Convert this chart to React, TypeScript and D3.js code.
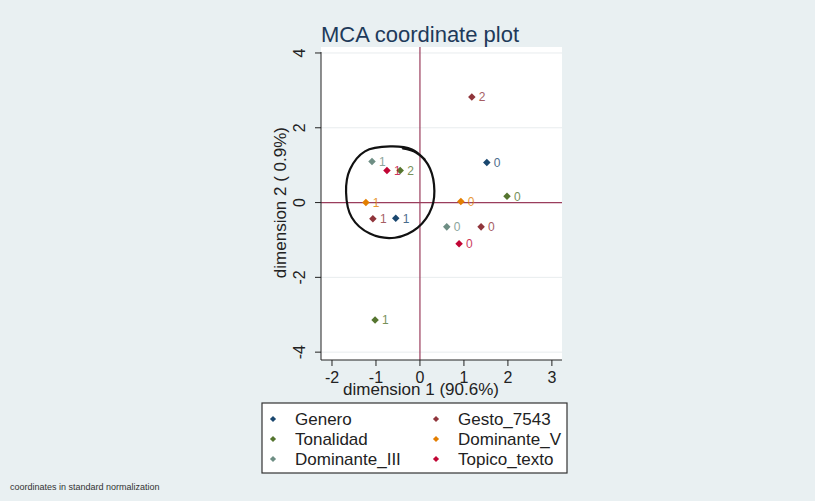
import { useEffect, useRef } from "react";
import * as d3 from "d3";

// variables in legend order (row-wise, two columns)
const variables = ["Genero", "Gesto_7543", "Tonalidad", "Dominante_V", "Dominante_III", "Topico_texto"];
const colors = ["#1a476f", "#90353b", "#55752f", "#e37e00", "#6e8e84", "#c10534"];

// category coordinates
const generoCats = ["0", "1"];
const generoDim1 = [1.52, -0.55];
const generoDim2 = [1.07, -0.42];

const gestoCats = ["0", "1", "2"];
const gestoDim1 = [1.39, -1.07, 1.18];
const gestoDim2 = [-0.65, -0.43, 2.82];

const tonalidadCats = ["0", "1", "2"];
const tonalidadDim1 = [1.98, -1.02, -0.45];
const tonalidadDim2 = [0.17, -3.14, 0.86];

const domVCats = ["0", "1"];
const domVDim1 = [0.93, -1.23];
const domVDim2 = [0.03, 0.0];

const domIIICats = ["0", "1"];
const domIIIDim1 = [0.61, -1.09];
const domIIIDim2 = [-0.65, 1.1];

const topicoCats = ["0", "1"];
const topicoDim1 = [0.89, -0.75];
const topicoDim2 = [-1.1, 0.86];

const xTicks = [-2, -1, 0, 1, 2, 3];
const yTicks = [-4, -2, 0, 2, 4];

// hand drawn loop around the left cluster (data units)
const loopDim1 = [0.11, -0.18, -0.68, -1.25, -1.59, -1.68, -1.55, -1.14, -0.57, -0.05, 0.27, 0.32, 0.18, -0.09, -0.39];
const loopDim2 = [1.15, 1.42, 1.5, 1.37, 0.89, 0.27, -0.4, -0.83, -0.94, -0.67, -0.13, 0.48, 1.02, 1.34, 1.45];

export default function App() {
  const svgRef = useRef<SVGSVGElement>(null);

  useEffect(() => {
    if (!svgRef.current) return;
    const W = 815, H = 501;
    const svg = d3.select(svgRef.current);
    svg.selectAll("*").remove();
    const font = "'Liberation Sans', Arial, sans-serif";

    const series = [
      { cats: generoCats, d1: generoDim1, d2: generoDim2 },
      { cats: gestoCats, d1: gestoDim1, d2: gestoDim2 },
      { cats: tonalidadCats, d1: tonalidadDim1, d2: tonalidadDim2 },
      { cats: domVCats, d1: domVDim1, d2: domVDim2 },
      { cats: domIIICats, d1: domIIIDim1, d2: domIIIDim2 },
      { cats: topicoCats, d1: topicoDim1, d2: topicoDim2 },
    ].map((s, i) => ({
      name: variables[i],
      color: colors[i],
      pts: s.cats.map((c, j) => ({ cat: c, x: s.d1[j], y: s.d2[j] })),
    }));

    const plot = { left: 321, right: 562, top: 47, bottom: 360 };
    const x = d3.scaleLinear().domain([-2.25, 3.23]).range([plot.left, plot.right]);
    const y = d3.scaleLinear().domain([-4.21, 4.16]).range([plot.bottom, plot.top]);

    // background
    svg.append("rect").attr("width", W).attr("height", H).attr("fill", "#e9f0f2");
    svg.append("rect")
      .attr("x", plot.left).attr("y", plot.top)
      .attr("width", plot.right - plot.left).attr("height", plot.bottom - plot.top)
      .attr("fill", "#ffffff");

    // gridlines
    svg.append("g").selectAll("line").data(yTicks).enter().append("line")
      .attr("x1", plot.left).attr("x2", plot.right)
      .attr("y1", d => y(d)).attr("y2", d => y(d))
      .attr("stroke", "#e8ecee").attr("stroke-width", 1);

    // reference lines at 0
    svg.append("line")
      .attr("x1", x(0)).attr("x2", x(0)).attr("y1", plot.top).attr("y2", plot.bottom)
      .attr("stroke", "#9a3d5c").attr("stroke-width", 1.2);
    svg.append("line")
      .attr("x1", plot.left).attr("x2", plot.right).attr("y1", y(0)).attr("y2", y(0))
      .attr("stroke", "#9a3d5c").attr("stroke-width", 1.2);

    // axes
    const axisColor = "#222";
    svg.append("line")
      .attr("x1", plot.left).attr("x2", plot.left).attr("y1", plot.top + 5).attr("y2", plot.bottom)
      .attr("stroke", axisColor);
    svg.append("line")
      .attr("x1", plot.left).attr("x2", plot.right).attr("y1", plot.bottom).attr("y2", plot.bottom)
      .attr("stroke", axisColor);

    const yt = svg.append("g");
    yt.selectAll("line").data(yTicks).enter().append("line")
      .attr("x1", plot.left - 6).attr("x2", plot.left)
      .attr("y1", d => y(d)).attr("y2", d => y(d))
      .attr("stroke", axisColor);
    yt.selectAll("text").data(yTicks).enter().append("text")
      .attr("transform", d => `translate(${plot.left - 22},${y(d)}) rotate(-90)`)
      .attr("text-anchor", "middle")
      .attr("dy", "0.35em")
      .attr("font-family", font).attr("font-size", 16).attr("fill", "#222")
      .text(d => String(d));

    const xt = svg.append("g");
    xt.selectAll("line").data(xTicks).enter().append("line")
      .attr("x1", d => x(d)).attr("x2", d => x(d))
      .attr("y1", plot.bottom).attr("y2", plot.bottom + 6)
      .attr("stroke", axisColor);
    xt.selectAll("text").data(xTicks).enter().append("text")
      .attr("x", d => x(d)).attr("y", plot.bottom + 23)
      .attr("text-anchor", "middle")
      .attr("font-family", font).attr("font-size", 16).attr("fill", "#222")
      .text(d => String(d));

    // axis titles
    svg.append("text")
      .attr("x", 421).attr("y", 395)
      .attr("text-anchor", "middle")
      .attr("font-family", font).attr("font-size", 17).attr("fill", "#222")
      .text("dimension 1 (90.6%)");
    svg.append("text")
      .attr("transform", `translate(280,${y(0)}) rotate(-90)`)
      .attr("text-anchor", "middle").attr("dy", "0.35em")
      .attr("font-family", font).attr("font-size", 17).attr("fill", "#222")
      .text("dimension 2 ( 0.9%)");

    // title
    svg.append("text")
      .attr("x", 420).attr("y", 42)
      .attr("text-anchor", "middle")
      .attr("font-family", font).attr("font-size", 22).attr("fill", "#1e3a5a")
      .text("MCA coordinate plot");

    // markers
    const diamond = d3.symbol().type(d3.symbolDiamond2).size(36);
    series.forEach(s => {
      const g = svg.append("g");
      g.selectAll("path").data(s.pts).enter().append("path")
        .attr("d", diamond)
        .attr("transform", d => `translate(${x(d.x)},${y(d.y)})`)
        .attr("fill", s.color);
      g.selectAll("text").data(s.pts).enter().append("text")
        .attr("x", d => x(d.x) + 7).attr("y", d => y(d.y))
        .attr("dy", "0.36em")
        .attr("font-family", font).attr("font-size", 12).attr("fill", s.color)
        .attr("opacity", 0.8)
        .text(d => d.cat);
    });

    // hand drawn loop
    const loopPts: [number, number][] = loopDim1.map((v, i) => [x(v), y(loopDim2[i])]);
    svg.append("path")
      .attr("d", d3.line().curve(d3.curveCatmullRom)(loopPts))
      .attr("fill", "none").attr("stroke", "#111").attr("stroke-width", 2.2)
      .attr("stroke-linecap", "round");

    // legend
    const lg = { x: 262, y: 403, w: 305, h: 70 };
    svg.append("rect")
      .attr("x", lg.x).attr("y", lg.y).attr("width", lg.w).attr("height", lg.h)
      .attr("fill", "#ffffff").attr("stroke", "#333").attr("stroke-width", 1.2);
    const legDiamond = d3.symbol().type(d3.symbolDiamond2).size(24);
    series.forEach((s, i) => {
      const col = i % 2, row = Math.floor(i / 2);
      const cx = col === 0 ? 273 : 436;
      const cy = 419 + row * 20;
      svg.append("path").attr("d", legDiamond)
        .attr("transform", `translate(${cx},${cy})`).attr("fill", s.color);
      svg.append("text")
        .attr("x", cx + 22).attr("y", cy).attr("dy", "0.36em")
        .attr("font-family", font).attr("font-size", 17).attr("fill", "#222")
        .text(s.name);
    });

    // note
    svg.append("text")
      .attr("x", 10).attr("y", 490)
      .attr("font-family", font).attr("font-size", 9).attr("fill", "#333")
      .text("coordinates in standard normalization");
  }, []);

  return (
    <svg
      ref={svgRef}
      width={815}
      height={501}
      style={{ position: "absolute", left: 0, top: 0, display: "block" }}
    />
  );
}
